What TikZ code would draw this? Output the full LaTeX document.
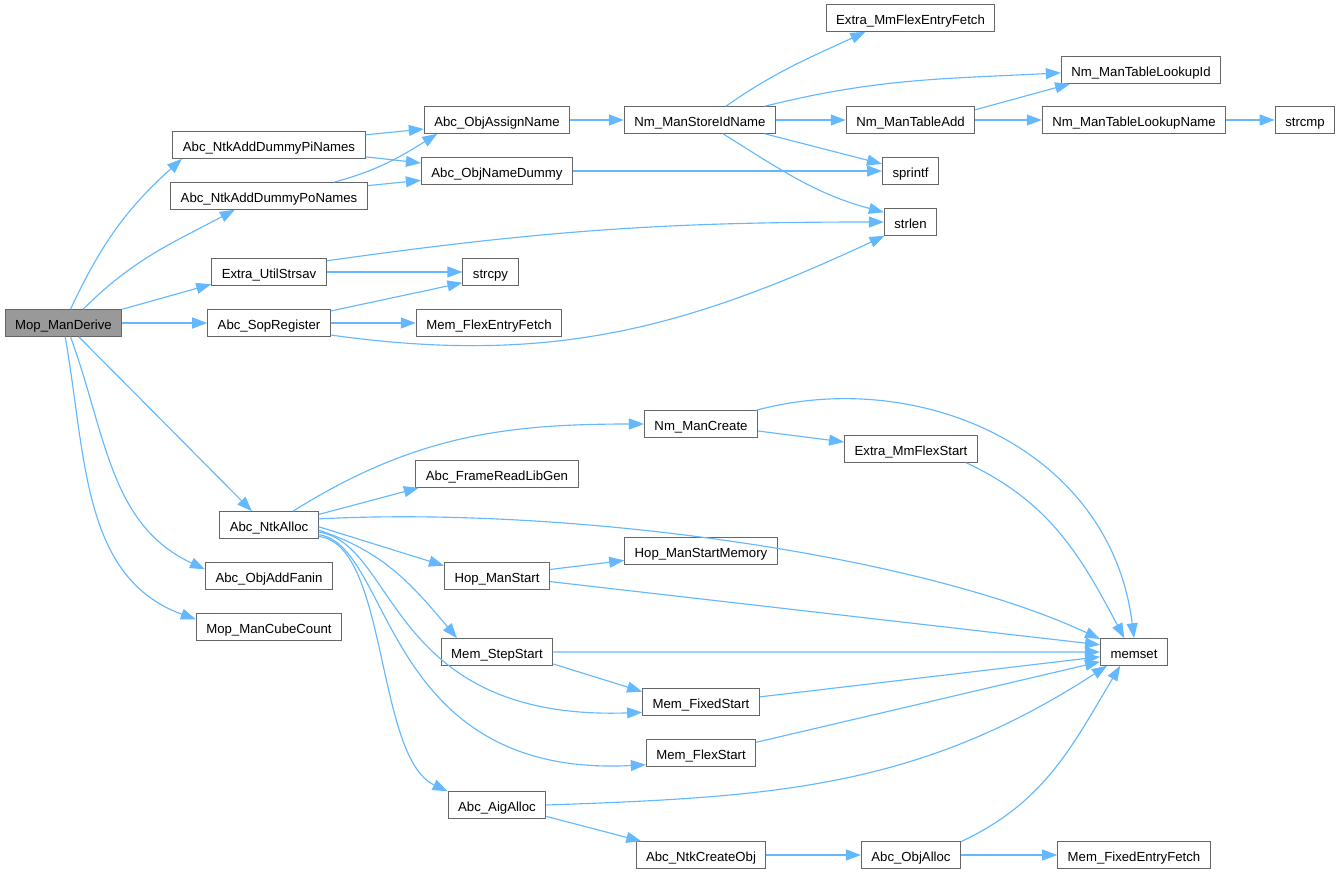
\documentclass[tikz,border=0pt]{standalone}
\usepackage{fontspec}
\setmainfont{Liberation Sans}
\usetikzlibrary{arrows.meta, positioning}
\definecolor{edgeblue}{HTML}{63B8FF}
\definecolor{boxgray}{HTML}{666666}
\definecolor{rootgray}{HTML}{999999}

\begin{document}
\begin{tikzpicture}[
    on grid,
    % === STYLES ===
    func/.style={
        rectangle,
        draw=boxgray,
        fill=#1,
        line width=0.6pt,
        inner xsep=0.2cm,
        inner ysep=0pt,
        minimum height=0.53cm,
        text height=0.716em,
        text depth=0pt,
        font=\fontsize{7.5}{9}\selectfont,
        text=black
    },
    func/.default=white,
    call/.style={
        -{Triangle[length=0.3cm,width=0.22cm]},
        line width=0.65pt,
        color=edgeblue
    }
]
\useasboundingbox (0,0) rectangle (26.82,-17.46);

% === COLUMN 1: ROOT ===
\node[func=rootgray] (mop) at (1.27,-6.46) {Mop\_ManDerive};

% === COLUMN 2: DIRECT CALLEES ===
\node[func, right=4.11cm of mop] (sopreg) {Abc\_SopRegister};
\node[func, above=1.02cm of sopreg] (strsav) {Extra\_UtilStrsav};
\node[func, above=1.52cm of strsav] (ponames) {Abc\_NtkAddDummyPoNames};
\node[func, above=1.02cm of ponames] (pinames) {Abc\_NtkAddDummyPiNames};
\node[func, below=4.04cm of sopreg] (ntkalloc) {Abc\_NtkAlloc};
\node[func, below=1.02cm of ntkalloc] (fanin) {Abc\_ObjAddFanin};
\node[func, below=1.02cm of fanin] (cubecount) {Mop\_ManCubeCount};

% === COLUMN 3 ===
\node[func, above right=0.5cm and 4.56cm of pinames] (assign) {Abc\_ObjAssignName};
\node[func, below=1.02cm of assign] (dummy) {Abc\_ObjNameDummy};
\node[func, right=4.43cm of strsav] (strcpy) {strcpy};
\node[func, right=4.4cm of sopreg] (flexfetch) {Mem\_FlexEntryFetch};
\node[func, above right=1.02cm and 4.56cm of ntkalloc] (libgen) {Abc\_FrameReadLibGen};
\node[func, right=4.56cm of fanin] (hopstart) {Hop\_ManStart};
\node[func, below=1.52cm of hopstart] (stepstart) {Mem\_StepStart};
\node[func, below=3.06cm of stepstart] (aigalloc) {Abc\_AigAlloc};

% === COLUMN 4 ===
\node[func, right=4.06cm of assign] (storeid) {Nm\_ManStoreIdName};
\node[func, above right=1.0cm and 4.08cm of libgen] (nmcreate) {Nm\_ManCreate};
\node[func, above right=0.5cm and 4.08cm of hopstart] (hopmem) {Hop\_ManStartMemory};
\node[func, below right=1.0cm and 4.08cm of stepstart] (fixedstart) {Mem\_FixedStart};
\node[func, below=1.02cm of fixedstart] (flexstart) {Mem\_FlexStart};
\node[func, below right=1.0cm and 4.08cm of aigalloc] (createobj) {Abc\_NtkCreateObj};

% === COLUMN 5 ===
\node[func, right=4.21cm of storeid] (tableadd) {Nm\_ManTableAdd};
\node[func, above=2.04cm of tableadd] (mmfetch) {Extra\_MmFlexEntryFetch};
\node[func, below=1.02cm of tableadd] (sprintf) {sprintf};
\node[func, below=1.02cm of sprintf] (strlen) {strlen};
\node[func, below right=0.5cm and 4.2cm of nmcreate] (mmstart) {Extra\_MmFlexStart};
\node[func, right=4.2cm of createobj] (objalloc) {Abc\_ObjAlloc};

% === COLUMN 6 AND 7 ===
\node[func, right=4.47cm of tableadd] (lookupname) {Nm\_ManTableLookupName};
\node[func, above right=1.0cm and 0.14cm of lookupname] (lookupid) {Nm\_ManTableLookupId};
\node[func, below right=4.06cm and 4.46cm of mmstart] (memset) {memset};
\node[func, right=4.46cm of objalloc] (fixedfetch) {Mem\_FixedEntryFetch};
\node[func, right=3.42cm of lookupname] (strcmp) {strcmp};

% === CALLS FROM ROOT ===
\draw[call] (mop.63) to[out=65,in=222] (pinames.189);
\draw[call] (mop.35) to[out=45,in=208] (ponames.202);
\draw[call] (mop.north east) -- (strsav.192);
\draw[call] (mop.east) -- (sopreg.west);
\draw[call] (mop.-42) -- (ntkalloc.141);
\draw[call] (mop.-63) to[out=-70,in=155] (fanin.174);
\draw[call] (mop.-83) to[out=-80,in=160] (cubecount.174);

% === NAMES AND STRINGS ===
\draw[call] (pinames.6) -- (assign.187);
\draw[call] (pinames.-7) -- (dummy.174);
\draw[call] (ponames.12) to[out=15,in=212] (assign.193);
\draw[call] (ponames.6) -- (dummy.187);
\draw[call] (strsav.11) to[out=8,in=180] (strlen.west);
\draw[call] (strsav.east) -- (strcpy.west);
\draw[call] (sopreg.11) -- (strcpy.201);
\draw[call] (sopreg.east) -- (flexfetch.west);
\draw[call] (sopreg.-11) to[out=-8,in=205] (strlen.208);

% === NAME MANAGER ===
\draw[call] (assign.east) -- (storeid.west);
\draw[call] (dummy.east) -- (sprintf.west);
\draw[call] (storeid.28) to[out=35,in=205] (mmfetch.197);
\draw[call] (storeid.12) to[out=14,in=183] (lookupid.182);
\draw[call] (storeid.east) -- (tableadd.west);
\draw[call] (storeid.-12) -- (sprintf.166);
\draw[call] (storeid.-31) to[out=-32,in=165] (strlen.160);
\draw[call] (tableadd.9) -- (lookupid.191);
\draw[call] (tableadd.east) -- (lookupname.west);
\draw[call] (lookupname.east) -- (strcmp.west);

% === NETWORK ALLOCATION ===
\draw[call] (ntkalloc.30) to[out=32,in=180] (nmcreate.west);
\draw[call] (ntkalloc.12) -- (libgen.190);
\draw[call] (ntkalloc.7) to[out=3,in=155,out distance=5cm,in distance=4cm] (memset.159);
\draw[call] (ntkalloc.-2) -- (hopstart.169);
\draw[call] (ntkalloc.-6) to[out=-18,in=130] (stepstart.161);
\draw[call] (ntkalloc.-8) to[out=-9,in=182,out distance=1.6cm,in distance=5.1cm] (fixedstart.190);
\draw[call] (ntkalloc.-11) to[out=-8,in=183,out distance=1.5cm,in distance=5.3cm] (flexstart.192);
\draw[call] (ntkalloc.-13) to[out=-6,in=155,out distance=1.4cm,in distance=1.6cm] (aigalloc.north west);

% === MEMORY MANAGERS ===
\draw[call] (nmcreate.-7) -- (mmstart.174);
\draw[call] (nmcreate.14) to[out=15,in=97,out distance=3.4cm,in distance=3.8cm] (memset.90);
\draw[call] (mmstart.-14) to[out=-25,in=118] (memset.125);
\draw[call] (hopstart.7) -- (hopmem.187);
\draw[call] (hopstart.-6) -- (memset.168);
\draw[call] (stepstart.east) -- (memset.west);
\draw[call] (stepstart.-12) -- (fixedstart.170);
\draw[call] (fixedstart.5) -- (memset.188);
\draw[call] (flexstart.11) -- (memset.196);
\draw[call] (aigalloc.east) to[out=2,in=213] (memset.207);
\draw[call] (aigalloc.-13) -- (createobj.167);
\draw[call] (createobj.east) -- (objalloc.west);
\draw[call] (objalloc.east) -- (fixedfetch.west);
\draw[call] (objalloc.15) to[out=25,in=239] (memset.225);

\end{tikzpicture}
\end{document}
